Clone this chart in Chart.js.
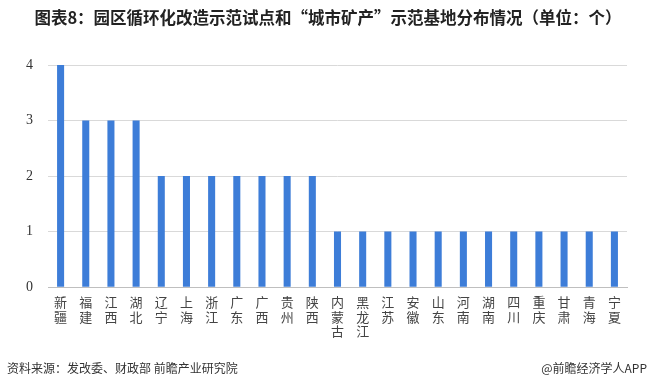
<!DOCTYPE html>
<html><head><meta charset="utf-8">
<script src="https://cdn.jsdelivr.net/npm/chart.js@4/dist/chart.umd.min.js"></script>
<style>html,body{margin:0;padding:0;background:#fff;}#wrap{width:650px;height:388px;position:relative;}</style>
</head><body><div id="wrap"><canvas id="c" width="650" height="388"></canvas></div>
<script>
const titleText = '图表8：园区循环化改造示范试点和“城市矿产”示范基地分布情况（单位：个）';
const sourceText = '资料来源：发改委、财政部 前瞻产业研究院';
const brandText = '@前瞻经济学人APP';
const categories = ['新疆','福建','江西','湖北','辽宁','上海','浙江','广东','广西','贵州','陕西','内蒙古','黑龙江','江苏','安徽','山东','河南','湖南','四川','重庆','甘肃','青海','宁夏'];
const values = [4,3,3,3,2,2,2,2,2,2,2,1,1,1,1,1,1,1,1,1,1,1,1];
const yTicks = [0,1,2,3,4];

const textPlugin = {
  id:'texts',
  afterDraw(chart){
    const ctx = chart.ctx;
    ctx.save();
    ctx.fillStyle = '#222';
    ctx.font = 'bold 16.5px "Noto Sans CJK SC"';
    ctx.textAlign = 'center';
    ctx.textBaseline = 'middle';
    ctx.fillText(titleText, 328, 18);
    ctx.font = '12px "Noto Sans CJK SC"';
    ctx.fillStyle = '#333';
    ctx.textAlign = 'left';
    ctx.fillText(sourceText, 7, 368);
    ctx.textAlign = 'right';
    ctx.fillText(brandText, 647, 368);
    ctx.restore();
  }
};
const bg = {id:'bg',beforeDraw(chart){const c=chart.ctx;c.save();c.fillStyle='#fff';c.fillRect(0,0,chart.width,chart.height);c.restore();}};

new Chart(document.getElementById('c'), {
  type:'bar',
  data:{labels: categories.map(s=>s.split('')), datasets:[{data:values, backgroundColor:'#3d7dd8', barPercentage:0.28, categoryPercentage:1.0}]},
  options:{
    responsive:false, animation:false,
    layout:{padding:{left:11,right:23,top:65,bottom:42}},
    plugins:{legend:{display:false},tooltip:{enabled:false},title:{display:false}},
    scales:{
      x:{grid:{display:false,drawTicks:false},border:{color:'#bfbfbf'},
         ticks:{maxRotation:0,minRotation:0,autoSkip:false,padding:7,color:'#444',font:{family:'"Noto Sans CJK SC"',size:13,lineHeight:1.15}}},
      y:{min:0,max:4,afterBuildTicks(axis){axis.ticks=yTicks.map(v=>({value:v}));},
         grid:{color:'#d9d9d9',drawTicks:false},border:{display:false},
         ticks:{padding:15,color:'#333',font:{family:'"Liberation Serif"',size:14}}}
    }
  },
  plugins:[bg,textPlugin]
});
</script></body></html>
